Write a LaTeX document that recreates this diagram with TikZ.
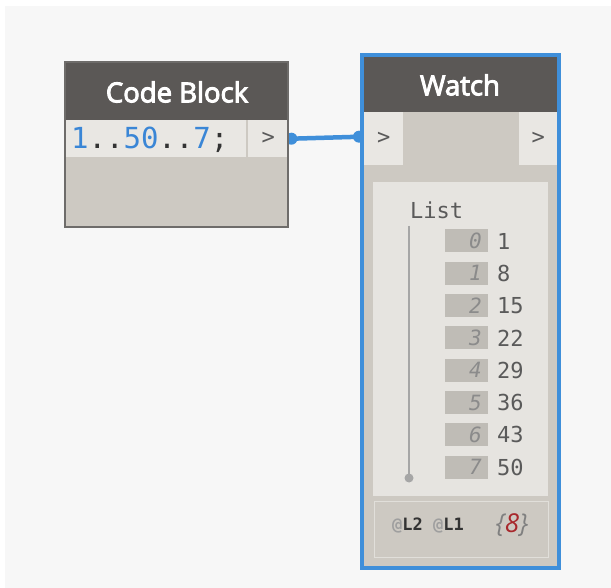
\documentclass[tikz,border=0pt]{standalone}
\usepackage{fontspec}
\setmainfont{Open Sans}
\setmonofont{DejaVu Sans Mono}
\newfontfamily\titlefont{Open Sans}[FakeBold=3.5]
\definecolor{bgc}{HTML}{F7F7F7}
\definecolor{hdr}{HTML}{5B5856}
\definecolor{body}{HTML}{CDC9C2}
\definecolor{rowc}{HTML}{E9E7E3}
\definecolor{panel}{HTML}{E6E4E0}
\definecolor{idx}{HTML}{BFBCB6}
\definecolor{wblue}{HTML}{3F8FDA}
\definecolor{cbborder}{HTML}{6E6C6A}
\definecolor{txt}{HTML}{5A5A5A}
\definecolor{code}{HTML}{3A86D6}
\definecolor{dred}{HTML}{A8282C}
\pgfdeclarelayer{back}
\pgfdeclarelayer{wires}
\pgfsetlayers{back,wires,main}
\tikzset{
  title/.style={text=white, font=\titlefont\fontsize{27.5}{31}\selectfont, inner sep=0},
  portbox/.style={fill=rowc, inner sep=0, text=txt, font=\ttfamily\fontsize{22}{26}\selectfont},
  idxbox/.style={fill=idx, minimum width=43, minimum height=23, inner sep=0},
  idxtxt/.style={text=txt!70, font=\ttfamily\itshape\fontsize{21}{24}\selectfont, inner sep=0, anchor=east},
  valtxt/.style={text=txt, font=\ttfamily\fontsize{22}{24}\selectfont, inner sep=0, anchor=west},
  wire/.style={draw=wblue, line width=4.5},
}
\begin{document}
\begin{tikzpicture}[x=1pt,y=-1pt]
\useasboundingbox (0,0) rectangle (611,588);
\begin{pgfonlayer}{back}
\fill[white] (0,0) rectangle (611,588);
\fill[bgc] (5,6) rectangle (611,588);
\end{pgfonlayer}
% Code Block node
\fill[body] (65,62) rectangle (288,227);
\fill[hdr] (65,62) rectangle (288,120);
\node[title] (cbtitle) at (177,92) {Code Block};
\node[fill=rowc, minimum width=180, minimum height=37, inner sep=0, anchor=north west] (cbcode) at (66,120) {};
\node[inner sep=0, anchor=west, font=\ttfamily\fontsize{29}{32}\selectfont] (cbtext) at (71,140) {\textcolor{code}{1}\textcolor{black!80}{..}\textcolor{code}{50}\textcolor{black!80}{..}\textcolor{code}{7}\textcolor{black!80}{;}};
\node[portbox, minimum width=40, minimum height=37, anchor=north west] (cbout) at (248,120) {>};
\draw[cbborder, line width=1.5] (65,62) rectangle (288,227);
% Watch node
\fill[body] (362,55) rectangle (559,568);
\fill[hdr] (362,55) rectangle (559,112);
\node[title] (wtitle) at (460,85) {Watch};
\node[portbox, minimum width=39, minimum height=53, anchor=north west] (win) at (364,112) {>};
\node[portbox, minimum width=38, minimum height=53, anchor=north west] (wout) at (519,112) {>};
\node[fill=panel, minimum width=175, minimum height=314, inner sep=0, anchor=north west] (panel) at (373,182) {};
\node[inner sep=0, anchor=west, text=txt, font=\ttfamily\fontsize{22}{24}\selectfont] (listlbl) at (410,210) {List};
\coordinate (ltop) at (409,226);
\coordinate (lbot) at (409,478);
\draw[gray!70, line width=1.2] (ltop) -- (lbot);
\fill[gray!70] (lbot) circle (4.5);
\foreach \i/\v in {0/1,1/8,2/15,3/22,4/29,5/36,6/43,7/50}{
  \node[idxbox] (ib\i) at (466.5,{241+\i*32.3}) {};
  \node[idxtxt] (it\i) at (482,{241+\i*32.3}) {\i};
  \node[valtxt] (iv\i) at (497,{241+\i*32.3}) {\v};
}
\node[fill=body, draw=panel!80!body, line width=1.5, minimum width=174, minimum height=56, inner sep=0, anchor=north west] (bar) at (373.5,500.5) {};
\node[inner sep=0, anchor=west, font=\ttfamily\bfseries\fontsize{17}{20}\selectfont] (lev) at (392,526) {\textcolor{gray!75}{@}\textcolor{black!80}{L2} \textcolor{gray!75}{@}\textcolor{black!80}{L1}};
\node[inner sep=0, font=\itshape\fontsize{26}{30}\selectfont] (cnt) at (512,525) {\textcolor{gray}{\{}\textcolor{dred}{8}\textcolor{gray}{\}}};
\draw[wblue, line width=4] (362,55) rectangle (559,568);
% connector
\begin{pgfonlayer}{wires}
\draw[wire] ([xshift=3]cbout.east) -- ([xshift=-3, yshift=2]win.west);
\fill[wblue] ([xshift=3]cbout.east) circle (6);
\fill[wblue] ([xshift=-5, yshift=2]win.west) circle (6);
\end{pgfonlayer}
\end{tikzpicture}
\end{document}
